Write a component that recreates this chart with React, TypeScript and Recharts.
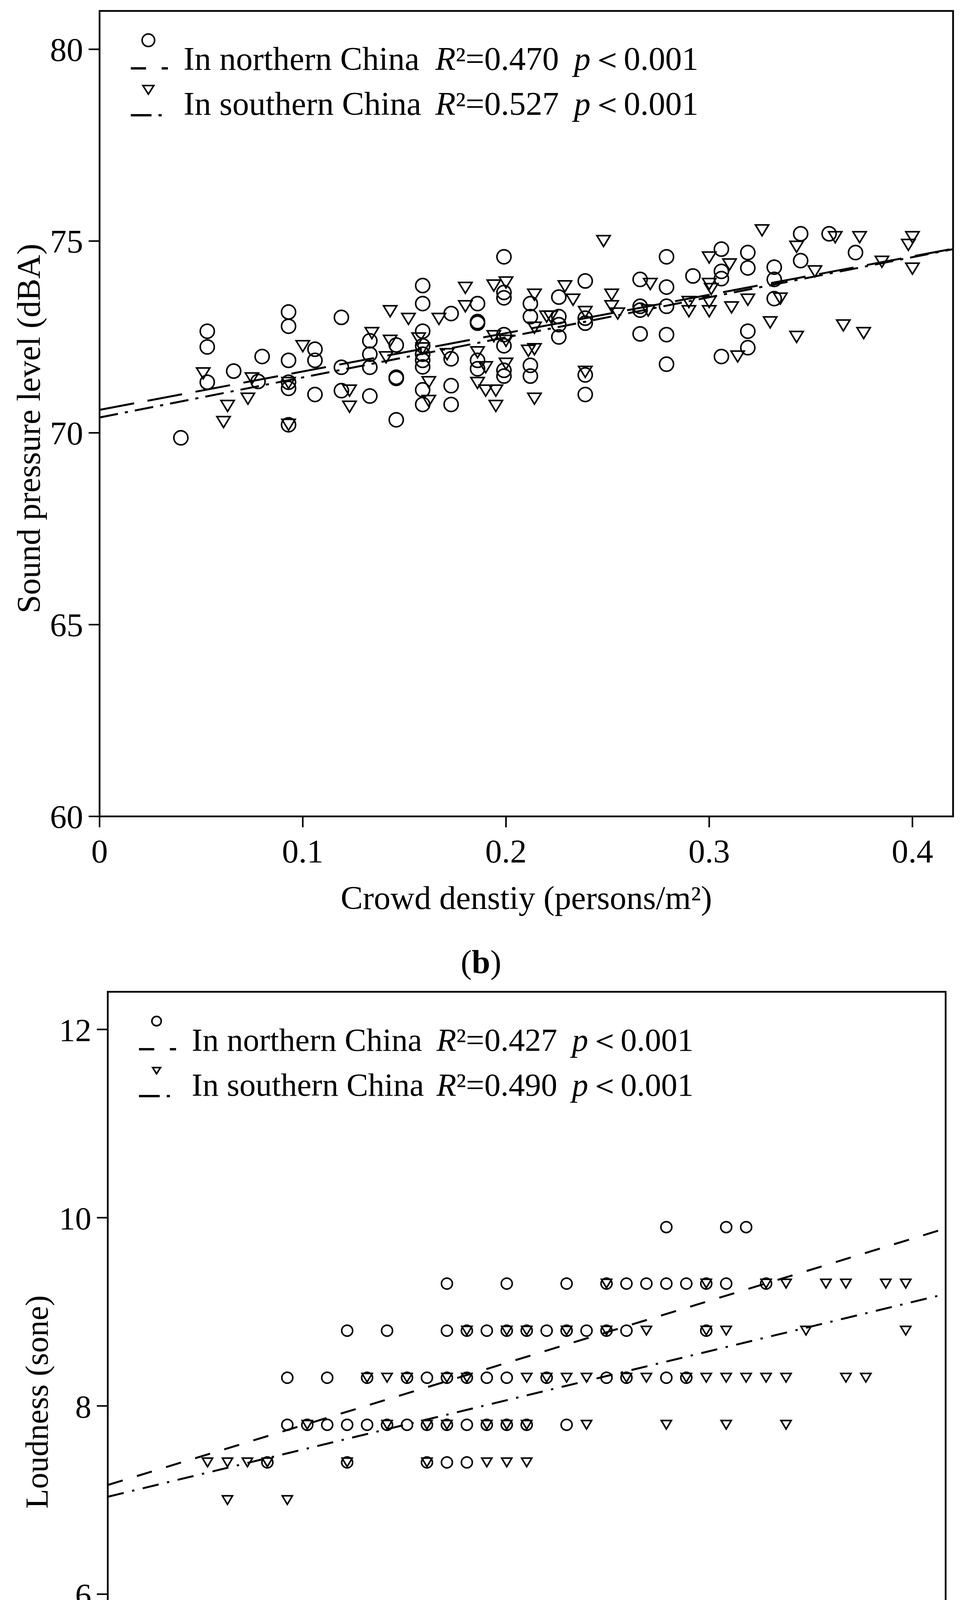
import React from 'react';
import {
  ScatterChart, Scatter, XAxis, YAxis, ReferenceLine, ReferenceArea, Legend
} from 'recharts';

const FONT = '"Liberation Serif", "Times New Roman", serif';
const INK = '#000';

// ---- (b) sound pressure level vs crowd density ----
const splNorth = [
  [0.040, 69.87],
  [0.053, 72.65], [0.053, 72.24], [0.053, 71.32],
  [0.066, 71.61],
  [0.080, 71.99], [0.078, 71.34],
  [0.093, 73.15], [0.093, 72.78], [0.093, 71.89], [0.093, 71.32], [0.093, 71.16], [0.093, 70.21],
  [0.106, 72.18], [0.106, 71.89], [0.106, 71.0],
  [0.119, 73.01], [0.119, 71.71], [0.119, 71.1],
  [0.133, 72.4], [0.133, 72.05], [0.133, 71.71], [0.133, 70.96],
  [0.146, 72.29], [0.146, 71.42], [0.146, 71.45], [0.146, 70.34],
  [0.159, 73.84], [0.159, 73.37], [0.159, 72.65], [0.159, 72.27], [0.159, 72.05],
  [0.159, 71.89], [0.159, 71.72], [0.159, 71.12], [0.159, 70.74],
  [0.173, 73.11], [0.173, 71.93], [0.173, 71.23], [0.173, 70.74],
  [0.186, 73.37], [0.186, 72.9], [0.186, 72.86], [0.186, 71.89], [0.186, 71.67],
  [0.199, 74.59], [0.199, 73.66], [0.199, 73.52], [0.199, 72.56], [0.199, 72.27],
  [0.199, 71.63], [0.199, 71.48],
  [0.212, 73.37], [0.212, 73.03], [0.212, 71.76], [0.212, 71.48],
  [0.226, 73.54], [0.226, 73.03], [0.226, 72.82], [0.226, 72.5],
  [0.239, 73.96], [0.239, 72.99], [0.239, 72.86], [0.239, 71.51], [0.239, 71.0],
  [0.266, 74.0], [0.266, 73.3], [0.266, 73.2], [0.266, 72.58],
  [0.279, 74.59], [0.279, 73.8], [0.279, 73.3], [0.279, 72.56], [0.279, 71.79],
  [0.292, 74.09],
  [0.306, 74.79], [0.306, 74.21], [0.306, 74.02], [0.306, 71.99],
  [0.319, 74.7], [0.319, 74.3], [0.319, 72.65], [0.319, 72.22],
  [0.332, 74.32], [0.332, 74.0], [0.332, 73.5],
  [0.345, 75.19], [0.345, 74.49],
  [0.359, 75.19],
  [0.372, 74.7],
];

const splSouth = [
  [0.051, 71.55], [0.061, 70.28], [0.063, 70.7], [0.073, 70.89], [0.075, 71.42],
  [0.093, 71.3], [0.093, 70.21], [0.100, 72.26], [0.123, 71.1], [0.123, 70.68],
  [0.134, 72.6], [0.141, 71.97], [0.143, 73.17], [0.143, 72.4], [0.152, 72.97],
  [0.157, 72.46], [0.159, 72.2], [0.162, 71.32], [0.162, 70.83], [0.167, 72.97],
  [0.171, 72.05], [0.180, 73.78], [0.180, 73.3], [0.186, 72.1], [0.186, 71.3],
  [0.190, 71.71], [0.190, 71.1], [0.195, 71.1], [0.195, 70.7], [0.194, 73.84],
  [0.200, 73.92], [0.194, 72.52], [0.200, 72.4], [0.200, 71.8],
  [0.211, 72.14], [0.214, 73.6], [0.214, 72.74], [0.214, 72.18], [0.214, 70.89],
  [0.220, 73.03], [0.222, 73.03], [0.229, 73.82], [0.233, 73.47], [0.239, 73.15],
  [0.239, 71.59], [0.248, 75.0], [0.252, 73.6], [0.252, 73.3], [0.255, 73.11],
  [0.270, 73.19], [0.271, 73.88],
  [0.290, 73.41], [0.290, 73.17], [0.300, 74.57], [0.300, 73.41], [0.300, 73.17],
  [0.300, 73.88], [0.301, 73.75], [0.310, 74.39], [0.311, 73.27], [0.314, 71.99],
  [0.319, 73.47], [0.326, 75.28], [0.330, 72.88], [0.335, 73.5], [0.343, 74.85],
  [0.343, 72.5], [0.352, 74.21], [0.362, 75.1], [0.366, 72.8], [0.374, 75.1],
  [0.376, 72.6], [0.385, 74.46], [0.398, 74.9], [0.400, 75.1], [0.400, 74.28],
];

// fitted lines: [intercept, slope]
const splNorthFit = [70.6, 10.0];
const splSouthFit = [70.4, 10.45];
const splR2 = ['0.470', '0.527'];

// ---- (c) loudness vs crowd density ----
const loudNorth = [
  [0.28, 9.9], [0.31, 9.9], [0.32, 9.9],
  [0.17, 9.3], [0.20, 9.3], [0.23, 9.3], [0.25, 9.3], [0.26, 9.3], [0.27, 9.3],
  [0.28, 9.3], [0.29, 9.3], [0.30, 9.3], [0.31, 9.3], [0.33, 9.3],
  [0.12, 8.8], [0.14, 8.8], [0.17, 8.8], [0.18, 8.8], [0.19, 8.8], [0.20, 8.8],
  [0.21, 8.8], [0.22, 8.8], [0.23, 8.8], [0.24, 8.8], [0.25, 8.8], [0.26, 8.8], [0.30, 8.8],
  [0.09, 8.3], [0.11, 8.3], [0.13, 8.3], [0.15, 8.3], [0.16, 8.3], [0.17, 8.3], [0.18, 8.3],
  [0.19, 8.3], [0.20, 8.3], [0.22, 8.3], [0.25, 8.3], [0.26, 8.3], [0.28, 8.3], [0.29, 8.3],
  [0.09, 7.8], [0.10, 7.8], [0.11, 7.8], [0.12, 7.8], [0.13, 7.8], [0.14, 7.8], [0.15, 7.8],
  [0.16, 7.8], [0.17, 7.8], [0.18, 7.8], [0.19, 7.8], [0.20, 7.8], [0.21, 7.8], [0.23, 7.8],
  [0.08, 7.4], [0.12, 7.4], [0.16, 7.4], [0.17, 7.4], [0.18, 7.4],
];

const loudSouth = [
  [0.25, 9.3], [0.30, 9.3], [0.33, 9.3], [0.34, 9.3], [0.36, 9.3], [0.37, 9.3],
  [0.39, 9.3], [0.40, 9.3],
  [0.18, 8.8], [0.20, 8.8], [0.21, 8.8], [0.23, 8.8], [0.25, 8.8], [0.27, 8.8],
  [0.30, 8.8], [0.31, 8.8], [0.35, 8.8], [0.40, 8.8],
  [0.13, 8.3], [0.14, 8.3], [0.15, 8.3], [0.17, 8.3], [0.18, 8.3], [0.21, 8.3], [0.22, 8.3],
  [0.23, 8.3], [0.24, 8.3], [0.26, 8.3], [0.27, 8.3], [0.29, 8.3], [0.30, 8.3], [0.31, 8.3],
  [0.32, 8.3], [0.33, 8.3], [0.34, 8.3], [0.37, 8.3], [0.38, 8.3],
  [0.10, 7.8], [0.14, 7.8], [0.16, 7.8], [0.17, 7.8], [0.19, 7.8], [0.20, 7.8], [0.21, 7.8],
  [0.24, 7.8], [0.28, 7.8], [0.31, 7.8], [0.34, 7.8],
  [0.05, 7.4], [0.06, 7.4], [0.07, 7.4], [0.08, 7.4], [0.12, 7.4], [0.16, 7.4],
  [0.19, 7.4], [0.20, 7.4], [0.21, 7.4],
  [0.06, 7.0], [0.09, 7.0],
];

const loudNorthFit = [7.16, 6.49];
const loudSouthFit = [7.035, 5.13];
const loudR2 = ['0.427', '0.490'];

const densityTicks = [0, 0.1, 0.2, 0.3, 0.4];
const splTicks = [60, 65, 70, 75, 80];
const loudTicks = [4, 6, 8, 10, 12];
const regionNames = ['In northern China', 'In southern China'];
const pText = '\uFF1C0.001';

const X_MAX = 0.42;

const toPoints = (pairs) => pairs.map(([x, y]) => ({ x, y }));
const fitSegment = ([a, b]) => [{ x: 0, y: a }, { x: X_MAX, y: a + b * X_MAX }];
const fmtDensity = (v) => (v === 0 ? '0' : String(v));

const circleShape = (r, sw) => (p) => (
  <circle cx={p.cx} cy={p.cy} r={r} fill="none" stroke={INK} strokeWidth={sw} />
);
const triShape = (w, h, sw) => (p) => (
  <path
    d={`M${p.cx - w / 2},${p.cy - h / 2}L${p.cx + w / 2},${p.cy - h / 2}L${p.cx},${p.cy + h / 2}Z`}
    fill="none" stroke={INK} strokeWidth={sw}
  />
);

const XTitle = ({ viewBox, fontSize }) => {
  const vb = viewBox || { x: 0, y: 0, width: 0 };
  return (
    <text x={vb.x + vb.width / 2} y={vb.y + 208} textAnchor="middle" dominantBaseline="central"
      fontSize={fontSize} fontFamily={FONT} fill={INK}>
      Crowd denstiy (persons/m²)
    </text>
  );
};

const YTitle = ({ viewBox, fontSize, text }) => {
  const vb = viewBox || { x: 0, y: 0, height: 0 };
  const cx = vb.x + 18;
  const cy = vb.y + vb.height / 2 + 38;
  return (
    <text x={cx} y={cy} transform={`rotate(-90 ${cx} ${cy})`} textAnchor="middle"
      dominantBaseline="central" fontSize={fontSize} fontFamily={FONT} fill={INK}>
      {text}
    </text>
  );
};

const LegendBox = ({ r2, fontSize, circleR, triW, triH, rX, pX }) => (
  <svg width={1800} height={320} style={{ overflow: 'visible', display: 'block' }}>
    <circle cx={125} cy={75} r={circleR} fill="none" stroke={INK} strokeWidth={4} />
    <line x1={80} y1={147} x2={180} y2={147} stroke={INK} strokeWidth={6} strokeDasharray="39 40 16 200" />
    <path d={`M${125 - triW / 2},${202 - triH / 2}L${125 + triW / 2},${202 - triH / 2}L125,${202 + triH / 2}Z`}
      fill="none" stroke={INK} strokeWidth={4} />
    <line x1={80} y1={267} x2={180} y2={267} stroke={INK} strokeWidth={6} strokeDasharray="53 18 8 200" />
    {[151, 266].map((y, i) => (
      <g key={i} fontFamily={FONT} fontSize={fontSize} fill={INK}>
        <text x={215} y={y}>{regionNames[i]}</text>
        <text x={rX} y={y}><tspan fontStyle="italic">R</tspan>²={r2[i]}</text>
        <text x={pX} y={y}><tspan fontStyle="italic">p</tspan>{pText}</text>
      </g>
    ))}
  </svg>
);

const Panel = ({
  top, height, margin, yDomain, yTicks, yTitle, north, south, northFit, southFit,
  r2, fontSize, mark, dash, legendPos,
}) => {
  const axisStyle = { stroke: INK, strokeWidth: 4 };
  const tickStyle = { fill: INK, fontSize, fontFamily: FONT };
  return (
    <div style={{ position: 'absolute', left: 0, top }}>
      <ScatterChart width={2469} height={height} margin={margin}>
        <XAxis type="number" dataKey="x" domain={[0, X_MAX]} ticks={densityTicks}
          allowDataOverflow tickFormatter={fmtDensity} axisLine={axisStyle} tickLine={axisStyle}
          tickSize={28} tickMargin={30} tick={tickStyle} height={300}
          label={<XTitle fontSize={fontSize} />} />
        <YAxis type="number" dataKey="y" domain={yDomain} ticks={yTicks} allowDataOverflow
          axisLine={axisStyle} tickLine={axisStyle} tickSize={28} tickMargin={14}
          tick={tickStyle} width={200} label={<YTitle fontSize={fontSize} text={yTitle} />} />
        <ReferenceArea x1={0} x2={X_MAX} y1={yDomain[0]} y2={yDomain[1]} fill="none"
          fillOpacity={0} stroke={INK} strokeWidth={4.5} ifOverflow="visible" />
        <Scatter name="north" data={toPoints(north)} shape={circleShape(mark.r, mark.sw)}
          isAnimationActive={false} />
        <Scatter name="south" data={toPoints(south)} shape={triShape(mark.tw, mark.th, mark.sw)}
          isAnimationActive={false} />
        <ReferenceLine segment={fitSegment(northFit)} stroke={INK} strokeWidth={5}
          strokeDasharray={dash.north} ifOverflow="visible" />
        <ReferenceLine segment={fitSegment(southFit)} stroke={INK} strokeWidth={5}
          strokeDasharray={dash.south} ifOverflow="visible" />
        <Legend layout="horizontal" verticalAlign="middle" align="center"
          wrapperStyle={{ left: legendPos.left, top: legendPos.top, width: 1800, height: 320 }}
          content={() => (
            <LegendBox r2={r2} fontSize={fontSize} circleR={mark.r - 2} triW={mark.tw - 6}
              triH={mark.th - 6} rX={legendPos.rX} pX={legendPos.pX} />
          )} />
      </ScatterChart>
    </div>
  );
};

const Caption = ({ letter, cy }) => (
  <div style={{
    position: 'absolute', left: 1132, top: cy - 50, width: 200, height: 100,
    lineHeight: '100px', textAlign: 'center', fontSize: 85, fontFamily: FONT, color: INK,
  }}>
    (<b>{letter}</b>)
  </div>
);

export default function App() {
  return (
    <div style={{
      position: 'relative', width: 2469, height: 4993, background: '#fff',
      fontFamily: FONT, overflow: 'hidden',
    }}>
      <style>{'html,body{margin:0;padding:0;background:#fff;}'}</style>
      <Panel
        top={0} height={2400}
        margin={{ top: 28, right: 28, bottom: 10, left: 55 }}
        yDomain={[60, 81]} yTicks={splTicks} yTitle="Sound pressure level (dBA)"
        north={splNorth} south={splSouth} northFit={splNorthFit} southFit={splSouthFit}
        r2={splR2} fontSize={85}
        mark={{ r: 18, sw: 4, tw: 34, th: 28 }}
        dash={{ north: '90 35', south: '48 18 8 18' }}
        legendPos={{ left: 255, top: 28, rX: 860, pX: 1215 }}
      />
      <Caption letter="b" cy={2462} />
      <Panel
        top={2450} height={2543}
        margin={{ top: 89, right: 47, bottom: 130, left: 76 }}
        yDomain={[4, 12.4]} yTicks={loudTicks} yTitle="Loudness (sone)"
        north={loudNorth} south={loudSouth} northFit={loudNorthFit} southFit={loudSouthFit}
        r2={loudR2} fontSize={83}
        mark={{ r: 14, sw: 4, tw: 26, th: 22 }}
        dash={{ north: '40 38', south: '42 22 6 22' }}
        legendPos={{ left: 276, top: 89, rX: 842, pX: 1189 }}
      />
      <Caption letter="c" cy={4920} />
    </div>
  );
}
